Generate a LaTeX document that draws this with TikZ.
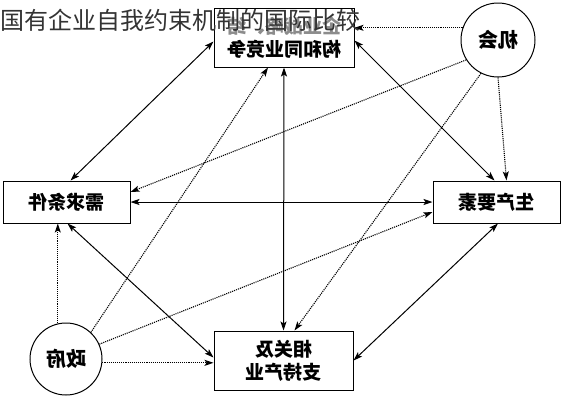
\documentclass[tikz,border=0pt]{standalone}
\usepackage{fontspec}
\setmainfont{Noto Sans CJK SC}
\usepackage{graphicx}
\usetikzlibrary{arrows.meta}
\begin{document}
\begin{tikzpicture}[x=1pt,y=-1pt,
  kuang/.style={draw,line width=1pt,font=\bfseries\fontsize{19}{23}\selectfont,align=center,inner sep=0pt},
  quan/.style={draw,circle,line width=1pt,font=\bfseries\fontsize{20}{24}\selectfont,inner sep=0pt},
  shi/.style={line width=1pt,{Stealth[length=9pt,width=6pt,inset=2pt]}-{Stealth[length=9pt,width=6pt,inset=2pt]}},
  xu/.style={line width=1.1pt,densely dotted,-{Stealth[length=9pt,width=6pt,inset=2pt]}}]
\fill[white](0,0)rectangle(565,400);
\useasboundingbox(0,0)rectangle(565,400);
\node[kuang,minimum width=140pt,minimum height=59pt](jingzheng)at(284,37.5){{\color{black!45}\reflectbox{企业战略、结}}\\\reflectbox{构和同业竞争}};
\node[kuang,minimum width=127pt,minimum height=42pt](xuqiu)at(66.5,202){\reflectbox{需求条件}};
\node[kuang,minimum width=127pt,minimum height=42pt](shengchan)at(496.5,202){\reflectbox{生产要素}};
\node[kuang,minimum width=139pt,minimum height=59pt](xiangguan)at(283.5,360.5){\reflectbox{相关及}\\\reflectbox{支持产业}};
\node[quan,minimum size=74pt](jihui)at(498,40){\reflectbox{机会}};
\node[quan,minimum size=72pt](zhengfu)at(66,359){\reflectbox{政府}};
\draw[shi]([xshift=4pt]xuqiu.north)--([yshift=-4pt]jingzheng.west);
\draw[shi]([yshift=-3pt]jingzheng.east)--([xshift=-2pt]shengchan.north);
\draw[shi](xuqiu.east)--(shengchan.west);
\draw[shi](jingzheng.south)--(xiangguan.north);
\draw[shi]([xshift=1pt]xuqiu.south)--([yshift=3pt]xiangguan.west);
\draw[shi]([xshift=1.5pt]shengchan.south)--(xiangguan.east);
\draw[xu](jihui.161)--(jihui.161-|jingzheng.east);
\draw[xu](jihui.212)--([yshift=10pt]xuqiu.east);
\draw[xu](jihui.south)--([xshift=10pt]shengchan.north);
\draw[xu](jihui.243)--([xshift=11pt]xiangguan.north);
\draw[xu](zhengfu.103)--(zhengfu.103|-xuqiu.south);
\draw[xu](zhengfu.47)--([xshift=-16pt]jingzheng.south);
\draw[xu](zhengfu.24)--([yshift=-10pt]shengchan.west);
\draw[xu](zhengfu.-6)--(zhengfu.-6-|xiangguan.west);
\node[anchor=west,text=black!80,font=\fontsize{24}{28}\selectfont,inner sep=0pt](biaoti)at(0,20){国有企业自我约束机制的国际比较};
\end{tikzpicture}
\end{document}
